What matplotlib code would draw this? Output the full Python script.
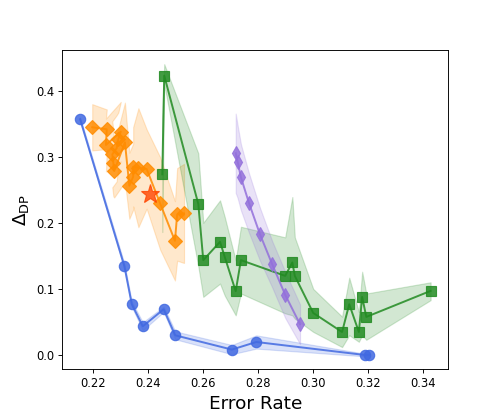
import numpy as np
import matplotlib
matplotlib.use("Agg")
import matplotlib.pyplot as plt

# Blue series (circles)
blue_x = [0.2152, 0.2313, 0.2340, 0.2380, 0.2456, 0.2498, 0.2704, 0.2793, 0.3188, 0.3203]
blue_y = [0.3567, 0.1344, 0.0768, 0.0435, 0.0692, 0.0298, 0.0082, 0.0197, 0.0000, 0.0000]
blue_s = [0.003, 0.004, 0.004, 0.006, 0.004, 0.006, 0.007, 0.010, 0.002, 0.002]

# Orange series (diamonds)
orange_x = [0.2196, 0.2249, 0.2246, 0.2300, 0.2291, 0.2285, 0.2269, 0.2273, 0.2276, 0.2315,
            0.2331, 0.2345, 0.2345, 0.2364, 0.2394, 0.2443, 0.2497, 0.2505, 0.2530]
orange_y = [0.3445, 0.3415, 0.3177, 0.3379, 0.3268, 0.3127, 0.3036, 0.2900, 0.2783, 0.3218,
            0.2561, 0.2697, 0.2848, 0.2833, 0.2814, 0.2294, 0.1727, 0.2127, 0.2142]
orange_s = [0.035, 0.030, 0.040, 0.045, 0.040, 0.050, 0.050, 0.050, 0.040, 0.060,
            0.050, 0.050, 0.060, 0.090, 0.060, 0.070, 0.060, 0.070, 0.075]

# Star marker
star_x = [0.2406]
star_y = [0.2435]

# Green series (squares)
green_x = [0.2451, 0.2458, 0.2582, 0.2600, 0.2661, 0.2678, 0.2718, 0.2737, 0.2898, 0.2924,
           0.2933, 0.3000, 0.3105, 0.3131, 0.3166, 0.3178, 0.3193, 0.3427]
green_y = [0.2733, 0.4227, 0.2283, 0.1435, 0.1712, 0.1485, 0.0965, 0.1435, 0.1197, 0.1400,
           0.1197, 0.0636, 0.0348, 0.0768, 0.0348, 0.0879, 0.0576, 0.0970]
green_lo = [0.186, 0.410, 0.134, 0.088, 0.108, 0.090, 0.060, 0.093, 0.063, 0.060,
            0.055, 0.035, 0.012, 0.030, 0.020, 0.030, 0.023, 0.083]
green_hi = [0.360, 0.440, 0.305, 0.200, 0.234, 0.209, 0.143, 0.194, 0.178, 0.239,
            0.178, 0.100, 0.058, 0.117, 0.065, 0.126, 0.093, 0.110]

# Purple series (thin diamonds)
purple_x = [0.2718, 0.2725, 0.2737, 0.2766, 0.2806, 0.2851, 0.2898, 0.2952]
purple_y = [0.3052, 0.2924, 0.2688, 0.2303, 0.1829, 0.1370, 0.0911, 0.0465]
purple_s = [0.060, 0.055, 0.050, 0.045, 0.040, 0.035, 0.035, 0.030]

fig, ax = plt.subplots(figsize=(6, 5), dpi=83)

def band(x, y, s, color):
    x = np.array(x); y = np.array(y); s = np.array(s)
    ax.fill_between(x, y - s, y + s, color=color, alpha=0.2, linewidth=1)

band(blue_x, blue_y, blue_s, "royalblue")
ax.plot(blue_x, blue_y, "-o", color="royalblue", alpha=0.85, lw=1.7, ms=9)

band(orange_x, orange_y, orange_s, "darkorange")
ax.plot(orange_x, orange_y, "-D", color="darkorange", alpha=0.85, lw=1.7, ms=8)

ax.fill_between(green_x, green_lo, green_hi, color="forestgreen", alpha=0.2, linewidth=1)
ax.plot(green_x, green_y, "-s", color="forestgreen", alpha=0.85, lw=1.7, ms=9)

band(purple_x, purple_y, purple_s, "mediumpurple")
ax.plot(purple_x, purple_y, "-d", color="mediumpurple", alpha=0.85, lw=1.7, ms=9)

ax.plot(star_x, star_y, "*", color="orangered", alpha=0.8, ms=17, lw=0)

ax.set_xlim(0.2087, 0.3491)
ax.set_ylim(-0.0217, 0.4617)
ax.set_xticks([0.22, 0.24, 0.26, 0.28, 0.30, 0.32, 0.34])
ax.set_yticks([0.0, 0.1, 0.2, 0.3, 0.4])
ax.set_xlabel("Error Rate", fontsize=16)
ax.set_ylabel(r"$\Delta_{\mathrm{DP}}$", fontsize=16)

fig.savefig("out.png", dpi=83)
